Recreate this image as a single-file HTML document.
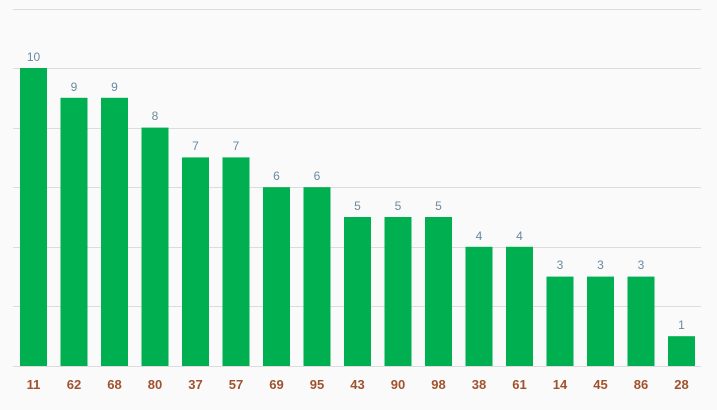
<!DOCTYPE html><html><head><style>body{margin:0;background:#fafafa}</style></head><body>
<svg width="717" height="405" xmlns="http://www.w3.org/2000/svg" font-family="Liberation Sans, sans-serif">
<rect width="717" height="405" fill="#fafafa"/>
<g stroke="#dcdcdc" stroke-width="1">
<line x1="13" x2="701" y1="9.5" y2="9.5"/><line x1="13" x2="701" y1="68.5" y2="68.5"/><line x1="13" x2="701" y1="128.5" y2="128.5"/><line x1="13" x2="701" y1="187.5" y2="187.5"/><line x1="13" x2="701" y1="247.5" y2="247.5"/><line x1="13" x2="701" y1="306.5" y2="306.5"/><line x1="13" x2="701" y1="366.5" y2="366.5"/>
</g>
<g fill="#00b050">
<rect x="20" y="68" width="27" height="298"/>
<rect x="60.5" y="97.8" width="27" height="268.2"/>
<rect x="101" y="97.8" width="27" height="268.2"/>
<rect x="141.5" y="127.6" width="27" height="238.4"/>
<rect x="182" y="157.4" width="27" height="208.6"/>
<rect x="222.5" y="157.4" width="27" height="208.6"/>
<rect x="263" y="187.2" width="27" height="178.8"/>
<rect x="303.5" y="187.2" width="27" height="178.8"/>
<rect x="344" y="217" width="27" height="149"/>
<rect x="384.5" y="217" width="27" height="149"/>
<rect x="425" y="217" width="27" height="149"/>
<rect x="465.5" y="246.8" width="27" height="119.2"/>
<rect x="506" y="246.8" width="27" height="119.2"/>
<rect x="546.5" y="276.6" width="27" height="89.4"/>
<rect x="587" y="276.6" width="27" height="89.4"/>
<rect x="627.5" y="276.6" width="27" height="89.4"/>
<rect x="668" y="336.2" width="27" height="29.8"/>
</g>
<g font-size="12" fill="#6b8aa0" text-anchor="middle">
<text x="33.5" y="61">10</text>
<text x="74" y="91">9</text>
<text x="114.5" y="91">9</text>
<text x="155" y="120">8</text>
<text x="195.5" y="150">7</text>
<text x="236" y="150">7</text>
<text x="276.5" y="180">6</text>
<text x="317" y="180">6</text>
<text x="357.5" y="210">5</text>
<text x="398" y="210">5</text>
<text x="438.5" y="210">5</text>
<text x="479" y="240">4</text>
<text x="519.5" y="240">4</text>
<text x="560" y="269">3</text>
<text x="600.5" y="269">3</text>
<text x="641" y="269">3</text>
<text x="681.5" y="329">1</text>
</g>
<g font-size="13" font-weight="bold" fill="#a0522d" text-anchor="middle">
<text x="33.5" y="389">11</text>
<text x="74" y="389">62</text>
<text x="114.5" y="389">68</text>
<text x="155" y="389">80</text>
<text x="195.5" y="389">37</text>
<text x="236" y="389">57</text>
<text x="276.5" y="389">69</text>
<text x="317" y="389">95</text>
<text x="357.5" y="389">43</text>
<text x="398" y="389">90</text>
<text x="438.5" y="389">98</text>
<text x="479" y="389">38</text>
<text x="519.5" y="389">61</text>
<text x="560" y="389">14</text>
<text x="600.5" y="389">45</text>
<text x="641" y="389">86</text>
<text x="681.5" y="389">28</text>
</g>
</svg></body></html>
